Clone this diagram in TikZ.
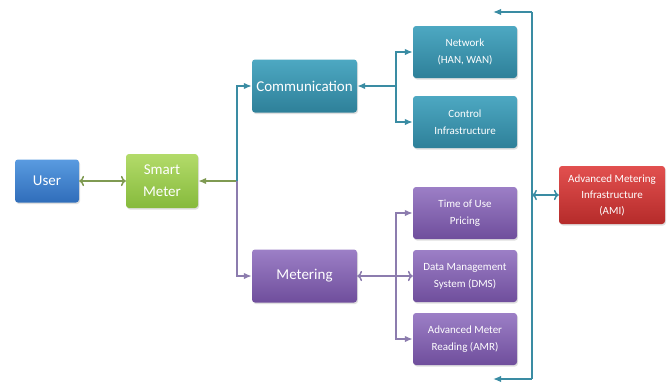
\documentclass[tikz,border=0pt]{standalone}
\usepackage{fontspec}
\setmainfont{Carlito}
\usepackage{tikz}
\usetikzlibrary{positioning,shadows,arrows.meta}
\definecolor{userTop}{HTML}{5A9BE0}
\definecolor{userBot}{HTML}{2F6DBA}
\definecolor{smartTop}{HTML}{B3DB6A}
\definecolor{smartBot}{HTML}{86BA3C}
\definecolor{commTop}{HTML}{4DA8C2}
\definecolor{commBot}{HTML}{2E8099}
\definecolor{meterTop}{HTML}{9C7FC6}
\definecolor{meterBot}{HTML}{6F4E9C}
\definecolor{amiTop}{HTML}{E2504F}
\definecolor{amiBot}{HTML}{B52B2A}
\definecolor{commLine}{HTML}{3A8CA3}
\definecolor{meterLine}{HTML}{8C7CAE}
\definecolor{userLine}{HTML}{7F9A52}

\begin{document}
\begin{tikzpicture}[x=1pt, y=-1pt,
  blk/.style={rounded corners=3pt, text=white, align=center, inner sep=1pt,
    drop shadow={opacity=0.25, shadow xshift=1pt, shadow yshift=-1.5pt}},
  bigblk/.style={blk, font=\fontsize{15}{22}\selectfont},
  smlblk/.style={blk, minimum width=104pt, minimum height=52pt, font=\fontsize{11}{17}\selectfont},
  commblk/.style={top color=commTop, bottom color=commBot},
  meterblk/.style={top color=meterTop, bottom color=meterBot},
  link/.style={line width=1.5pt, -{Latex[length=8pt,width=6.5pt]}},
]
  \useasboundingbox (0,0) rectangle (672,383);

  % left side
  \node[bigblk, top color=userTop, bottom color=userBot, minimum width=64pt, minimum height=43pt] (user) at (47,181) {User};
  \node[bigblk, top color=smartTop, bottom color=smartBot, minimum width=72pt, minimum height=54pt] (smart) at (162,181) {Smart\\Meter};

  % middle
  \node[bigblk, commblk, minimum width=105pt, minimum height=53pt] (comm) at (304.5,86) {Communication};
  \node[bigblk, meterblk, minimum width=105pt, minimum height=53pt] (meter) at (304.5,276) {Metering};

  % right column
  \node[smlblk, commblk] (net) at (465,52) {Network\\(HAN, WAN)};
  \node[smlblk, commblk] (ctrl) at (465,122) {Control\\Infrastructure};
  \node[smlblk, meterblk] (tou) at (465,213) {Time of Use\\Pricing};
  \node[smlblk, meterblk] (dms) at (465,276) {Data Management\\System (DMS)};
  \node[smlblk, meterblk] (amr) at (465,339) {Advanced Meter\\Reading (AMR)};

  \node[smlblk, top color=amiTop, bottom color=amiBot, minimum width=106pt, minimum height=58pt, font=\fontsize{11}{16}\selectfont] (ami) at (612,195) {Advanced Metering\\Infrastructure\\(AMI)};

  % junctions
  \coordinate (jsm) at (237,181);
  \coordinate (jcomm) at (396,86);
  \coordinate (jmeter) at (396,276);
  \coordinate (rtop) at (532,12);
  \coordinate (rbot) at (532,379);
  \coordinate (rmid) at (532,195);
  \coordinate (ttop) at (493,12);
  \coordinate (tbot) at (493,379);

  % connectors
  \draw[link, <->, userLine] (user) -- (smart);
  \draw[link, userLine] (jsm) -- (smart);
  \draw[link, commLine] (jsm) |- (comm);
  \draw[link, meterLine] (jsm) |- (meter);

  \draw[link, commLine] (jcomm) -- (comm);
  \draw[link, commLine] (jcomm) |- (net);
  \draw[link, commLine] (jcomm) |- (ctrl);

  \draw[link, <->, meterLine] (meter) -- (dms);
  \draw[link, meterLine] (jmeter) |- (tou);
  \draw[link, meterLine] (jmeter) |- (amr);

  \draw[link, commLine] (rtop) -- (ttop);
  \draw[line width=1.5pt, commLine] (rtop) -- (rbot);
  \draw[link, commLine] (rbot) -- (tbot);
  \draw[link, <->, commLine] (rmid) -- (ami);
\end{tikzpicture}
\end{document}
